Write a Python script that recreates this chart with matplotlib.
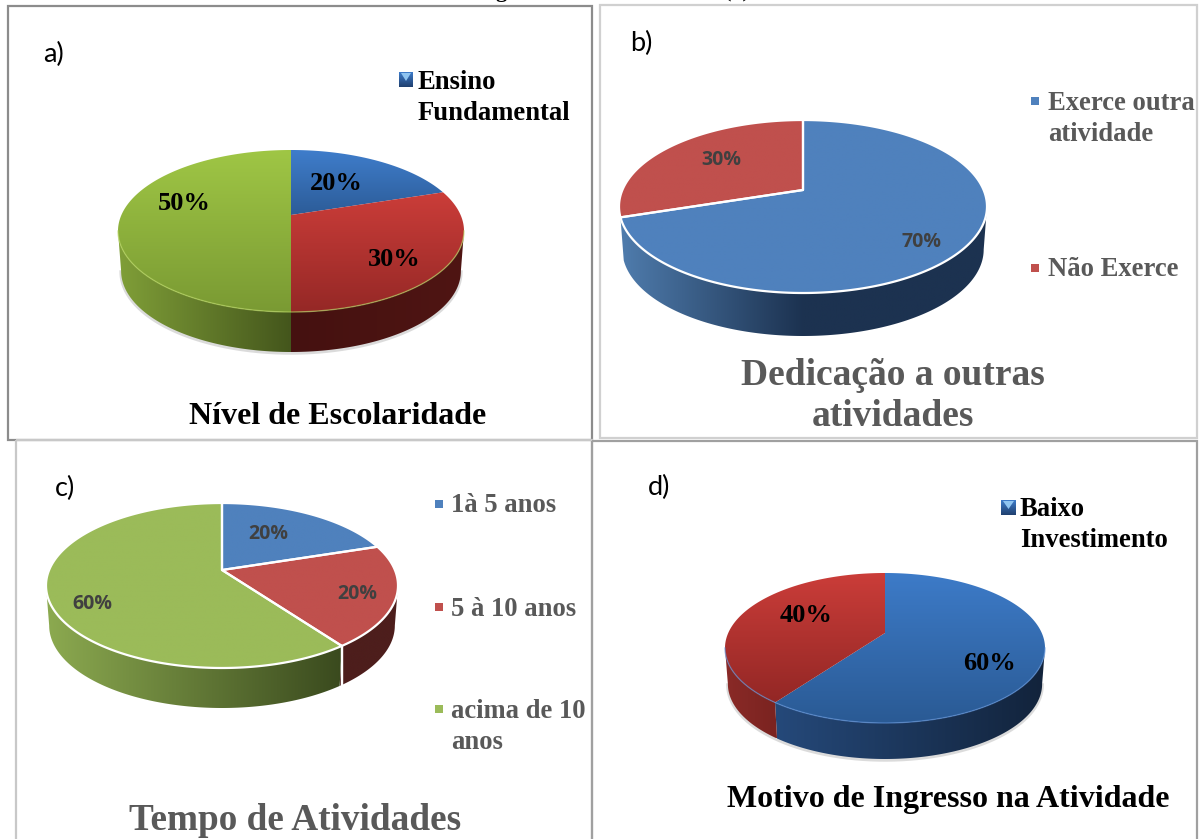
import numpy as np
import matplotlib
matplotlib.use("Agg")
import matplotlib.pyplot as plt
from matplotlib.colors import LinearSegmentedColormap
from matplotlib.patches import Polygon, Rectangle

# ---- data ----
values_a = [20, 30, 50]
values_b = [70, 30]
values_c = [20, 20, 60]
values_d = [60, 40]
legend_a = ["Ensino\nFundamental"]
legend_b = ["Exerce outra\natividade", "Não Exerce"]
legend_c = ["1à 5 anos", "5 à 10 anos", "acima de 10\nanos"]
legend_d = ["Baixo\nInvestimento"]
title_a = "Nível de Escolaridade"
title_b = "Dedicação a outras\natividades"
title_c = "Tempo de Atividades"
title_d = "Motivo de Ingresso na Atividade"

GRAY = "#595959"
DARK = "#404040"
BLUE, RED, GREEN = "#4F81BD", "#C0504D", "#9BBB59"

panels = [
    dict(tag="a)", tag_xy=(54, 54), values=values_a, vx=291, vy=215, rx=173, up=65, down=97, depth=40,
         top=[("#3F7DCB", "#2C5C98"), ("#CB3D39", "#952826"), ("#9FC645", "#7A9A33")],
         wall=[("#1E3A5F", "#14263F"), ("#451110", "#4F1513"), ("#809F38", "#44561C")],
         edge=None, rim="#B7D65F", font="serif", pct_color="black",
         pct_xy=[(336, 183), (394, 260), (184, 204)],
         legend=legend_a, leg_xy=[(418, 98)], leg_color="black", sw=[(399, 72, 14, 15, "grad")],
         title=title_a, title_xy=(338, 417), title_size=23, title_color="black"),
    dict(tag="b)", tag_xy=(641, 43), values=values_b, vx=803, vy=190, rx=184, up=70, down=103, depth=43,
         top=[(BLUE, BLUE), (RED, RED)],
         wall=[("#4F7CAD", "#1C3250", "#1C3250"), None],
         edge="white", rim=None, font="calibri", pct_color=DARK,
         pct_xy=[(921, 242), (721, 160)],
         legend=legend_b, leg_xy=[(1048, 119), (1048, 270)], leg_color=GRAY,
         sw=[(1031, 97, 8, 8, BLUE), (1031, 264, 8, 8, RED)],
         title=title_b, title_xy=(893, 396), title_size=27, title_color=GRAY),
    dict(tag="c)", tag_xy=(65, 488), values=values_c, vx=222, vy=570, rx=176, up=67, down=98, depth=40,
         top=[(BLUE, BLUE), (RED, RED), (GREEN, GREEN)],
         wall=[("#2F4D71", "#2F4D71"), ("#4D1E1C", "#4D1E1C"), ("#8CAA50", "#3A4A1E")],
         edge="white", rim=None, font="calibri", pct_color=DARK,
         pct_xy=[(268, 534), (357, 594), (92, 604)],
         legend=legend_c, leg_xy=[(451, 505), (451, 609), (451, 727)], leg_color=GRAY,
         sw=[(435, 500, 8, 8, BLUE), (435, 603, 8, 8, RED), (435, 705, 8, 8, GREEN)],
         title=title_c, title_xy=(295, 821), title_size=26.8, title_color=GRAY),
    dict(tag="d)", tag_xy=(659, 487), values=values_d, vx=885, vy=633, rx=160, up=60, down=90, depth=36,
         top=[("#3D7BC8", "#2A5A94"), ("#CB3D39", "#932725")],
         wall=[("#25497A", "#12233B"), ("#8A2A27", "#7A2320")],
         edge=None, rim="#5C90D8", font="serif", pct_color="black",
         pct_xy=[(990, 663), (806, 615)],
         legend=legend_d, leg_xy=[(1020, 525)], leg_color="black", sw=[(1001, 500, 15, 15, "grad")],
         title=title_d, title_xy=(948, 800), title_size=23, title_color="black"),
]

frames = [
    (8, 6, 584, 434, "#8C8C8C", 1.6),
    (600, 5, 597, 433, "#D0D0D0", 1.6),
    (16, 440, 576, 420, "#C8C8C8", 1.6),
    (592, 441, 605, 420, "#A0A0A0", 1.6),
]

plt.rcParams["font.family"] = ["Liberation Serif", "DejaVu Serif"]
fig = plt.figure(figsize=(12.0, 8.39), dpi=100, facecolor="white")
ax = fig.add_axes([0, 0, 1, 1])
ax.axis("off")


def project(theta, p, scale=1.0):
    k = (p["down"] - p["up"]) / (p["down"] + p["up"])
    b = p["up"] * (1 + k)
    a = p["rx"] * np.sqrt(1 - k * k) * scale
    w = 1 + k * np.cos(theta)
    return p["vx"] + a * np.sin(theta) / w, p["vy"] - b * np.cos(theta) / w


def gradient(colors, extent, clip, z, vertical=False):
    cmap = LinearSegmentedColormap.from_list("g", list(colors))
    arr = np.linspace(0, 1, 256)
    arr = arr.reshape(-1, 1) if vertical else arr.reshape(1, -1)
    im = ax.imshow(arr, cmap=cmap, extent=extent, origin="upper", aspect="auto",
                   zorder=z, interpolation="bilinear")
    im.set_clip_path(clip)


def draw_pie(p):
    vals = np.asarray(p["values"], float)
    edges = np.concatenate([[0], np.cumsum(vals)]) / vals.sum() * 2 * np.pi
    k = (p["down"] - p["up"]) / (p["down"] + p["up"])
    th_e = np.arccos(-k)
    lo, hi = th_e, 2 * np.pi - th_e
    bs = 0.982
    # soft shadow around the wall
    if p["edge"] is None:
        t = np.linspace(lo, hi, 200)
        x, y = project(t, p, bs)
        ax.plot(x, y + p["depth"] + 1, color="#C4C4C4", lw=2.5, alpha=0.6, zorder=2)
    # walls
    for i in range(len(vals)):
        t0, t1 = max(edges[i], lo), min(edges[i + 1], hi)
        if t1 <= t0 or p["wall"][i] is None:
            continue
        t = np.linspace(t0, t1, 200)
        x, y = project(t, p)
        xb, yb = project(t, p, bs)
        px = np.concatenate([x, xb[::-1]])
        py = np.concatenate([y, yb[::-1] + p["depth"]])
        poly = Polygon(np.c_[px, py], closed=True, fc="none", ec="none", zorder=3)
        ax.add_patch(poly)
        gradient(p["wall"][i], [px.min(), px.max(), py.max(), py.min()], poly, 3)
        if p["edge"]:
            for tt in (t0, t1):
                if lo < tt < hi and p["wall"][(i + 1) % len(vals)] is not None:
                    xe, ye = project(tt, p)
                    ax.plot([xe, xe], [ye, ye + p["depth"]], color=p["edge"], lw=1.6, zorder=4)
    # top faces
    for i in range(len(vals)):
        t = np.linspace(edges[i], edges[i + 1], 300)
        x, y = project(t, p)
        px = np.concatenate([[p["vx"]], x])
        py = np.concatenate([[p["vy"]], y])
        poly = Polygon(np.c_[px, py], closed=True, fc="none", ec="none", zorder=5)
        ax.add_patch(poly)
        gradient(p["top"][i], [px.min(), px.max(), py.max(), py.min()], poly, 5, vertical=True)
        if p["edge"]:
            ax.add_patch(Polygon(np.c_[px, py], closed=True, fc="none", ec=p["edge"], lw=1.6,
                                 zorder=6, joinstyle="round"))
    if p["rim"]:
        t = np.linspace(lo, hi, 200)
        x, y = project(t, p)
        ax.plot(x, y, color=p["rim"], lw=1.0, alpha=0.6, zorder=6)


def label(x, y, s, size, color, font, ha="center", lh=1.2):
    fam = ["Open Sans", "DejaVu Sans"] if font == "calibri" else ["Liberation Serif", "DejaVu Serif"]
    ax.text(x, y, s, fontsize=size, color=color, family=fam, weight="bold", ha=ha, va="center",
            linespacing=lh, zorder=8)


def swatch(x, y, w, h, c):
    if c != "grad":
        ax.add_patch(Rectangle((x, y), w, h, fc=c, ec="none", zorder=8))
        return
    box = Rectangle((x, y), w, h, fc="none", ec="none", zorder=8)
    ax.add_patch(box)
    gradient(("#3F7DCB", "#1F3F6E"), [x, x + w, y + h, y], box, 8, vertical=True)
    ax.add_patch(Polygon([(x + 2, y + 1), (x + w - 2, y + 1), (x + w / 2, y + h * 0.6)], closed=True,
                         fc="#8FC4F0", ec="none", zorder=9))


for (x, y, w, h, c, lw) in frames:
    ax.add_patch(Rectangle((x, y), w, h, fc="none", ec=c, lw=lw, zorder=1))

for p in panels:
    draw_pie(p)
    ax.text(*p["tag_xy"], p["tag"], fontsize=19.5, family=["Lato", "DejaVu Sans"], color="black",
            ha="center", va="center", zorder=8)
    for v, xy in zip(p["values"], p["pct_xy"]):
        if p["font"] == "serif":
            label(xy[0], xy[1], f"{v}%", 19, p["pct_color"], "serif")
        else:
            label(xy[0], xy[1], f"{v}%", 14, p["pct_color"], "calibri")
    for s, xy in zip(p["legend"], p["leg_xy"]):
        label(xy[0], xy[1], s, 19.2, p["leg_color"], "serif", ha="left", lh=1.36)
    for sw in p["sw"]:
        swatch(*sw)
    label(*p["title_xy"], p["title"], p["title_size"], p["title_color"], "serif", lh=1.21)

# caption clipped by the top edge of the page
ax.text(501, -8, "g", fontsize=16, family=["Liberation Serif"], weight="bold", ha="center", va="center")
ax.text(737, -8, "(1)", fontsize=16, family=["Liberation Serif"], weight="bold", ha="center", va="center")

ax.set_xlim(0, 1200)
ax.set_ylim(839, 0)
fig.savefig("out.png", dpi=100, facecolor="white")
